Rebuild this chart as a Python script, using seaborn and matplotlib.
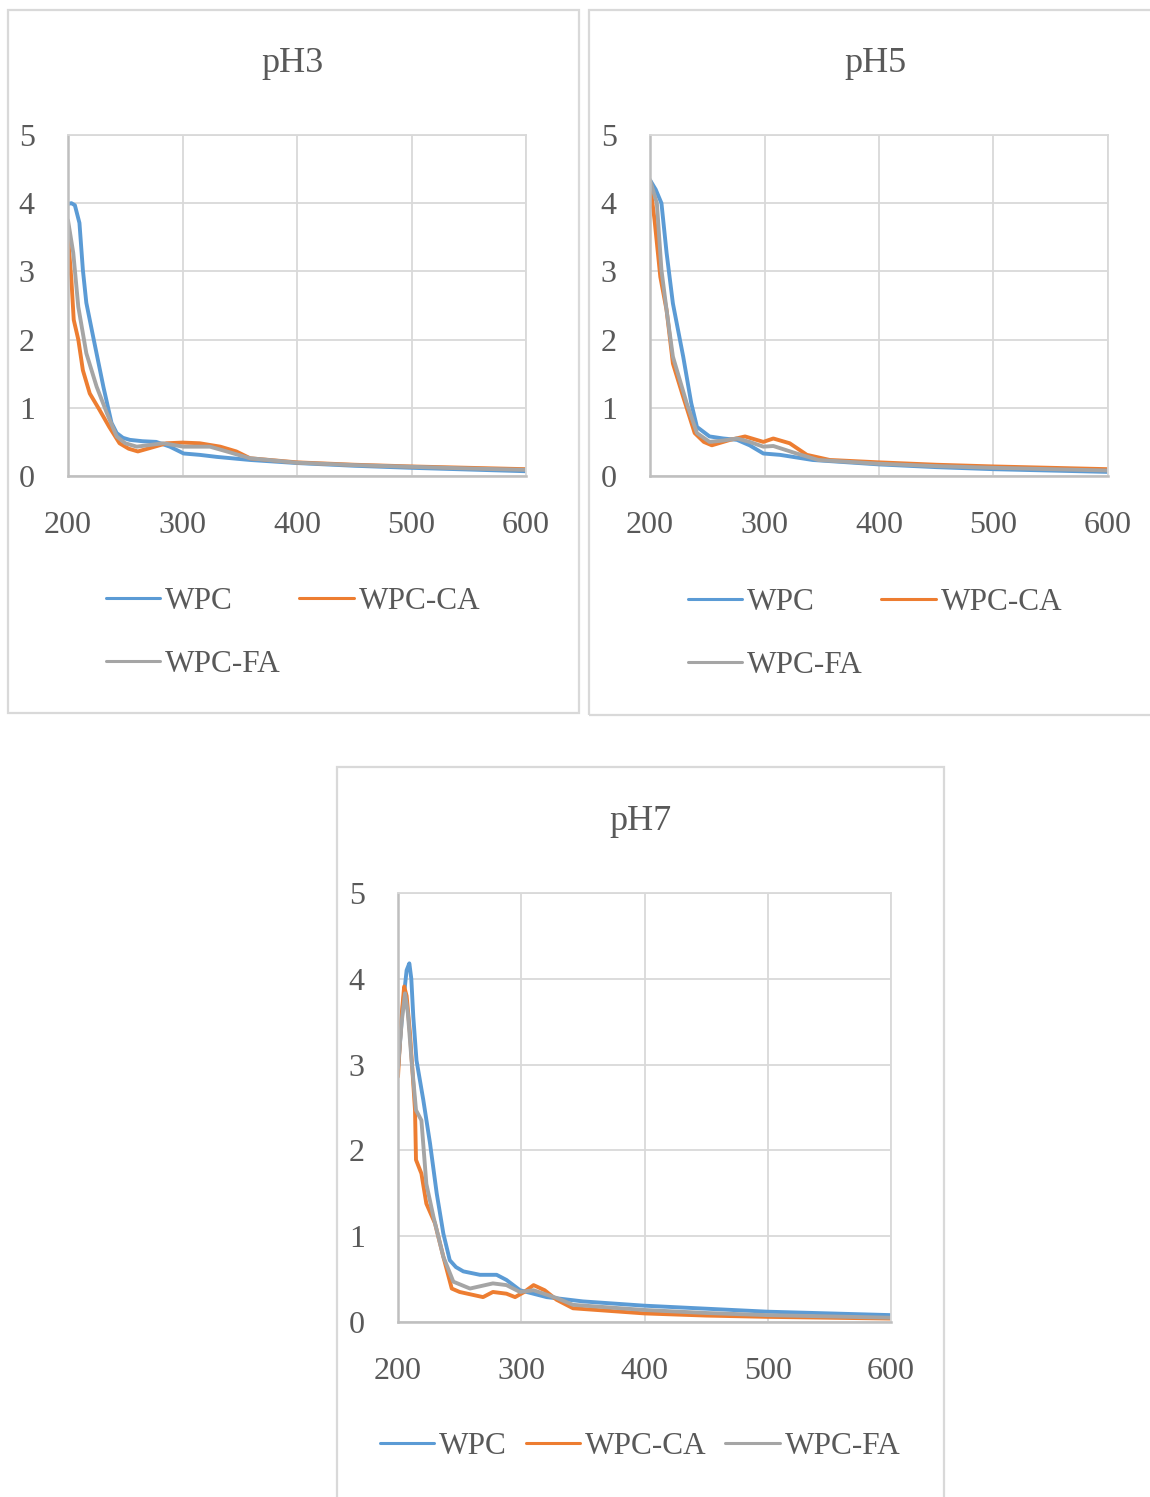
import matplotlib
matplotlib.use("Agg")
import matplotlib.pyplot as plt
import seaborn as sns
import pandas as pd
from matplotlib.patches import Rectangle

sns.set_theme(style="white")
plt.rcParams["font.family"] = ["Liberation Serif", "DejaVu Serif"]

SERIES = ["WPC", "WPC-CA", "WPC-FA"]
COLORS = ["#5B9BD5", "#ED7D31", "#A5A5A5"]

# ---- pH 3 spectra (wavelength nm, absorbance) ----
ph3_wpc_x = [200, 203, 206, 210, 213, 216, 222, 231, 238, 242.5, 248, 254, 265, 277, 289, 301, 315, 330, 359, 400, 450, 500, 550, 600]
ph3_wpc_y = [3.99, 4.0, 3.97, 3.71, 3.02, 2.54, 2.04, 1.30, 0.78, 0.63, 0.56, 0.53, 0.51, 0.50, 0.43, 0.33, 0.31, 0.28, 0.235, 0.19, 0.15, 0.12, 0.095, 0.07]
ph3_ca_x = [200, 203, 205, 209, 213, 219, 227.5, 236, 245, 253, 261, 271.6, 286, 300, 315, 333, 347, 359, 400, 450, 500, 550, 600]
ph3_ca_y = [3.51, 2.87, 2.29, 2.0, 1.55, 1.21, 0.97, 0.72, 0.48, 0.40, 0.36, 0.41, 0.48, 0.49, 0.48, 0.43, 0.36, 0.26, 0.2, 0.165, 0.14, 0.12, 0.10]
ph3_fa_x = [200, 204.6, 209, 216, 225, 234, 242.5, 250, 260, 283, 301, 324, 338.6, 359, 400, 450, 500, 550, 600]
ph3_fa_y = [3.75, 3.27, 2.48, 1.80, 1.31, 0.92, 0.58, 0.48, 0.43, 0.48, 0.43, 0.43, 0.36, 0.26, 0.195, 0.16, 0.135, 0.11, 0.09]

# ---- pH 5 spectra ----
ph5_wpc_x = [200, 205, 210, 214.5, 220, 229, 236, 241, 252, 264, 276, 287, 299, 313.5, 342, 400, 450, 500, 550, 600]
ph5_wpc_y = [4.34, 4.2, 4.0, 3.27, 2.53, 1.75, 1.07, 0.72, 0.58, 0.55, 0.53, 0.45, 0.33, 0.31, 0.235, 0.17, 0.13, 0.10, 0.08, 0.06]
ph5_ca_x = [200, 204, 209, 214.5, 220, 229, 239, 247, 254, 270, 283, 299, 307.7, 322, 337, 357, 400, 450, 500, 550, 600]
ph5_ca_y = [4.3, 3.75, 2.92, 2.43, 1.65, 1.16, 0.63, 0.50, 0.45, 0.53, 0.58, 0.50, 0.55, 0.48, 0.31, 0.235, 0.2, 0.165, 0.14, 0.12, 0.10]
ph5_fa_x = [200, 206, 210, 214.5, 220, 232, 241, 252, 264, 276, 287, 299, 307.7, 328, 347, 400, 450, 500, 550, 600]
ph5_fa_y = [4.34, 4.0, 3.02, 2.43, 1.75, 1.07, 0.63, 0.50, 0.52, 0.55, 0.50, 0.43, 0.44, 0.33, 0.235, 0.18, 0.145, 0.12, 0.10, 0.08]

# ---- pH 7 spectra ----
ph7_wpc_x = [200, 204, 207, 209.2, 210.8, 212.4, 215, 220.5, 226, 231.4, 236.8, 242, 247, 253, 266.5, 280, 288, 299, 320.6, 350, 400, 450, 500, 550, 600]
ph7_wpc_y = [2.96, 3.7, 4.1, 4.18, 4.0, 3.56, 3.05, 2.59, 2.08, 1.50, 1.03, 0.72, 0.64, 0.59, 0.55, 0.55, 0.49, 0.37, 0.29, 0.24, 0.19, 0.155, 0.12, 0.10, 0.08]
ph7_ca_x = [200, 202.5, 205, 207, 209.7, 213.8, 214.6, 219, 223, 230, 236.8, 243.6, 250, 269, 277, 288, 295, 302.4, 310, 319, 328.6, 342, 400, 450, 500, 550, 600]
ph7_ca_y = [2.86, 3.5, 3.91, 3.8, 3.37, 2.47, 1.89, 1.73, 1.38, 1.15, 0.76, 0.39, 0.35, 0.29, 0.35, 0.33, 0.29, 0.35, 0.43, 0.37, 0.26, 0.16, 0.10, 0.075, 0.06, 0.05, 0.04]
ph7_fa_x = [200, 203, 205.7, 208, 211, 214.6, 219, 223, 228.7, 236.8, 244.9, 258.4, 277, 288, 299, 310, 328.6, 342, 400, 450, 500, 550, 600]
ph7_fa_y = [2.96, 3.5, 3.83, 3.6, 3.05, 2.47, 2.35, 1.61, 1.23, 0.76, 0.47, 0.39, 0.45, 0.43, 0.35, 0.37, 0.28, 0.20, 0.14, 0.105, 0.08, 0.065, 0.05]

x_ticks = [200, 300, 400, 500, 600]
y_ticks = [0, 1, 2, 3, 4, 5]

W, H = 1150, 1497
fig = plt.figure(figsize=(W / 100, H / 100), dpi=100)
fig.patch.set_facecolor("white")

TEXT = "#595959"
GRID = "#D9D9D9"


def frame(x0, y0, x1, y1):
    fig.patches.append(Rectangle((x0 / W, 1 - y1 / H), (x1 - x0) / W, (y1 - y0) / H,
                                 transform=fig.transFigure, fill=False,
                                 edgecolor=GRID, linewidth=1.6, zorder=0))


def make_df(xs, ys):
    rows = []
    for name, x, y in zip(SERIES, xs, ys):
        rows += [{"wavelength": a, "absorbance": b, "sample": name} for a, b in zip(x, y)]
    return pd.DataFrame(rows)


def panel(box, xs, ys, title, title_xy, legend_xy, ncol):
    left, top, right, bottom = box
    ax = fig.add_axes([left / W, 1 - bottom / H, (right - left) / W, (bottom - top) / H])
    df = make_df(xs, ys)
    sns.lineplot(data=df, x="wavelength", y="absorbance", hue="sample",
                 hue_order=SERIES, palette=COLORS, linewidth=2.8, ax=ax,
                 sort=False, estimator=None, legend=True)
    for ln in ax.get_lines():
        ln.set_solid_joinstyle("round")
        ln.set_solid_capstyle("round")
    ax.set_xlim(200, 600)
    ax.set_ylim(0, 5)
    ax.set_xticks(x_ticks)
    ax.set_yticks(y_ticks)
    ax.set_xlabel("")
    ax.set_ylabel("")
    ax.grid(True, color=GRID, linewidth=1.3)
    ax.set_axisbelow(True)
    ax.tick_params(axis="both", length=0, labelsize=23, colors=TEXT)
    ax.tick_params(axis="x", pad=25)
    ax.tick_params(axis="y", pad=24)
    for s in ["top", "right"]:
        ax.spines[s].set_color(GRID)
        ax.spines[s].set_linewidth(1.3)
    for s in ["left", "bottom"]:
        ax.spines[s].set_color("#BFBFBF")
        ax.spines[s].set_linewidth(1.8)
    handles, labels = ax.get_legend_handles_labels()
    ax.get_legend().remove()
    for h in handles:
        h.set_linewidth(2.2)
    if ncol == 2:
        # row-wise order: WPC, WPC-CA on the first row, WPC-FA below
        order = [0, 2, 1]
        handles = [handles[i] for i in order]
        labels = [labels[i] for i in order]
    fig.legend(handles, labels, loc="center",
               bbox_to_anchor=(legend_xy[0] / W, 1 - legend_xy[1] / H),
               ncol=ncol, frameon=False, fontsize=22.5, labelcolor=TEXT,
               handlelength=1.75, handletextpad=0.15, columnspacing=0.6,
               labelspacing=1.1, borderpad=0)
    fig.text(title_xy[0] / W, 1 - title_xy[1] / H, title, fontsize=26,
             color=TEXT, ha="center", va="center")
    return ax


frame(8, 10, 579, 713)
frame(589, 10, 1160, 715)
frame(337, 767, 944, 1510)

panel((68, 135, 526, 476), [ph3_wpc_x, ph3_ca_x, ph3_fa_x], [ph3_wpc_y, ph3_ca_y, ph3_fa_y],
      "pH3", (293, 64), (293, 633), 2)
panel((650, 135, 1108, 476), [ph5_wpc_x, ph5_ca_x, ph5_fa_x], [ph5_wpc_y, ph5_ca_y, ph5_fa_y],
      "pH5", (875, 64), (875, 634), 2)
panel((398, 893, 891, 1322), [ph7_wpc_x, ph7_ca_x, ph7_fa_x], [ph7_wpc_y, ph7_ca_y, ph7_fa_y],
      "pH7", (640, 822), (640, 1446), 3)

fig.savefig("out.png", dpi=100, facecolor="white")
